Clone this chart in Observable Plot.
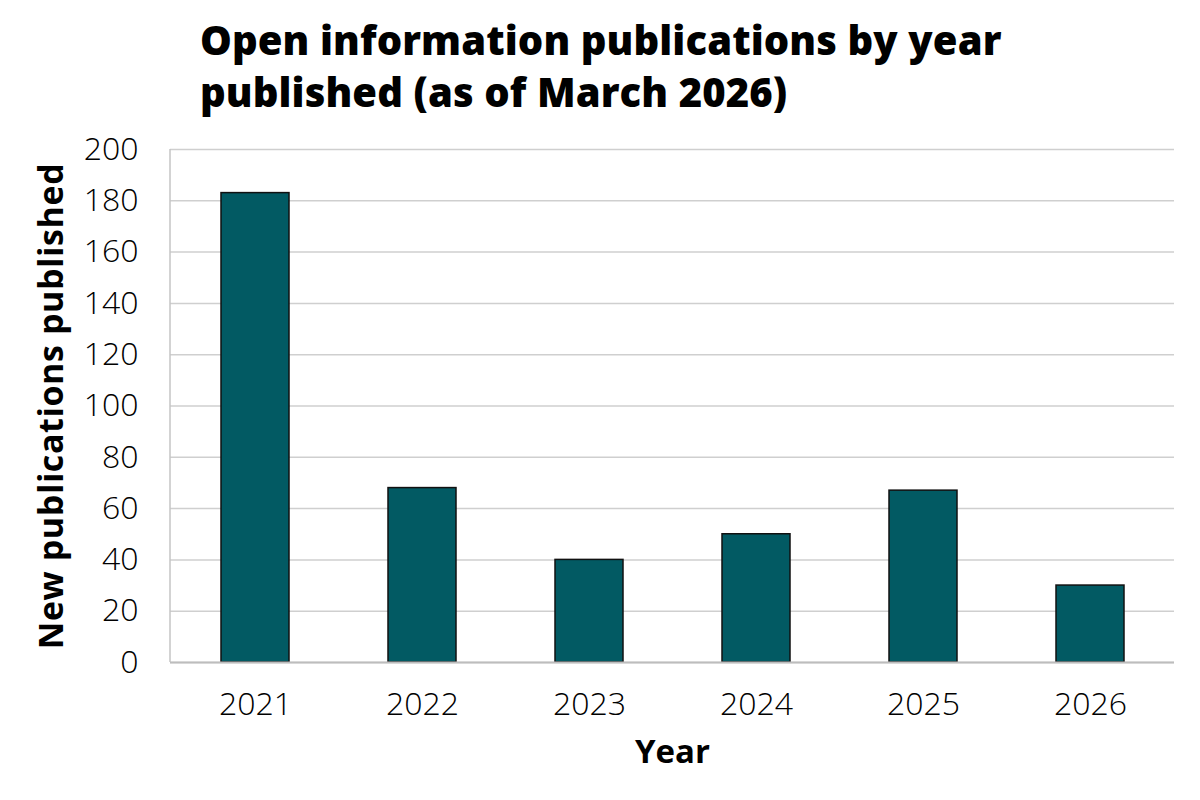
<!DOCTYPE html>
<html>
<head>
<meta charset="utf-8">
<script src="https://cdn.jsdelivr.net/npm/d3@7"></script>
<script src="https://cdn.jsdelivr.net/npm/@observablehq/plot@0.6"></script>
<style>
  html, body { margin: 0; padding: 0; background: #fff; }
  #wrap { width: 1200px; height: 800px; position: relative; font-family: "Open Sans", sans-serif; }
  h1 {
    position: absolute; left: 200px; top: 14px; margin: 0; z-index: 2;
    font-size: 40px; line-height: 52px; font-weight: 800; color: #000;
    letter-spacing: 0.1px;
  }
  #chart { position: absolute; left: 0; top: 100px; z-index: 1; }
</style>
</head>
<body>
<div id="wrap">
  <div id="chart"></div>
  <h1>Open information publications by year<br>published (as of March 2026)</h1>
</div>
<script>
// Publications per year
const years = ["2021", "2022", "2023", "2024", "2025", "2026"];
const counts = [183, 68, 40, 50, 67, 30];
const yTicks = [0, 20, 40, 60, 80, 100, 120, 140, 160, 180, 200];

const data = years.map((year, i) => ({year, count: counts[i]}));

const chart = Plot.plot({
  width: 1200,
  height: 700,
  marginTop: 49,
  marginBottom: 138,
  marginLeft: 170,
  marginRight: 26,
  style: {fontFamily: "Open Sans, sans-serif", color: "#000", background: "none"},
  x: {domain: years, paddingInner: 0.595, paddingOuter: 0.29, align: 0.5},
  y: {domain: [0, 200]},
  marks: [
    Plot.gridY(yTicks, {stroke: "#cfcfcf", strokeOpacity: 1, strokeWidth: 1.5}),
    Plot.axisY({
      ticks: yTicks, tickSize: 0, tickPadding: 32, fontSize: 32, fontWeight: 300,
      label: "New publications published", labelAnchor: "center", labelArrow: "none",
      labelOffset: 132
    }),
    Plot.axisX({
      tickSize: 0, tickPadding: 30, fontSize: 32, fontWeight: 300,
      label: "Year", labelAnchor: "center", labelArrow: "none", labelOffset: 100
    }),
    // left edge line of the plot area
    (index, scales, values, dims) => {
      const line = document.createElementNS("http://www.w3.org/2000/svg", "line");
      line.setAttribute("x1", dims.marginLeft);
      line.setAttribute("x2", dims.marginLeft);
      line.setAttribute("y1", dims.marginTop);
      line.setAttribute("y2", dims.height - dims.marginBottom);
      line.setAttribute("stroke", "#c4c4c4");
      line.setAttribute("stroke-width", 1.5);
      return line;
    },
    Plot.barY(data, {x: "year", y: "count", fill: "#025a63", stroke: "#111", strokeWidth: 1.5}),
    Plot.ruleY([0], {stroke: "#bdbdbd", strokeWidth: 2})
  ]
});

// Bold axis titles
chart.querySelectorAll("g[aria-label='y-axis label'] text").forEach(t => {
  t.setAttribute("font-weight", "700");
  t.setAttribute("font-size", "34");
  t.setAttribute("letter-spacing", "0.6");
});
chart.querySelectorAll("g[aria-label='x-axis label'] text").forEach(t => {
  t.setAttribute("font-weight", "700");
  t.setAttribute("font-size", "33");
});

document.getElementById("chart").appendChild(chart);
</script>
</body>
</html>
